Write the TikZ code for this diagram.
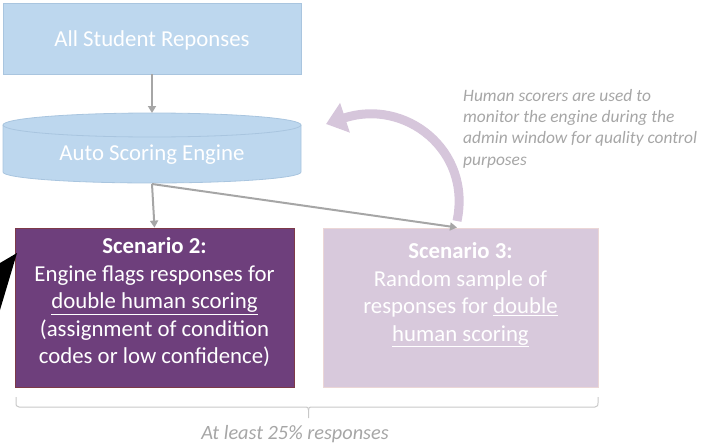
\documentclass[tikz,border=0pt]{standalone}
\usepackage{fontspec}
\setmainfont{Carlito}
\usetikzlibrary{arrows.meta}
\definecolor{lblue}{HTML}{BDD7EE}
\definecolor{lblueb}{HTML}{A9C5DF}
\definecolor{purp}{HTML}{6E3F7C}
\definecolor{purpb}{HTML}{7D3A48}
\definecolor{lilac}{HTML}{D8C9DC}
\definecolor{lilacb}{HTML}{EBD6D6}
\definecolor{arcc}{HTML}{D6C6DB}
\definecolor{conng}{HTML}{A6A6A6}
\definecolor{noteg}{HTML}{A6A6A6}
\definecolor{braceg}{HTML}{C8C8C8}
\tikzset{
  bluebox/.style={draw=lblueb, line width=0.8pt, fill=lblue, minimum width=298pt, minimum height=71pt, inner sep=0pt},
  conn/.style={draw=conng, line width=2pt, -{Triangle[length=7pt,width=8pt]}},
  whitetxt/.style={text=white, font=\fontsize{22.8}{27.5}\selectfont, align=center, inner sep=0pt},
  note/.style={text=noteg, font=\fontsize{17.4}{21.3}\selectfont\itshape, align=left, inner sep=0pt},
}
\begin{document}
\begin{tikzpicture}[x=1pt,y=-1pt]
\useasboundingbox (0,0) rectangle (705,447);
% top box
\node[bluebox] (top) at (152,38.5) {};
\node[whitetxt] (toptxt) at (152,40) {All Student Reponses};
% cylinder
\fill[lblue] (3,125) -- (3,172) arc[start angle=180,end angle=360,x radius=149pt,y radius=11pt] -- (301,125) arc[start angle=0,end angle=180,x radius=149pt,y radius=12pt] -- cycle;
\draw[lblueb, line width=0.8pt] (3,125) -- (3,172) arc[start angle=180,end angle=360,x radius=149pt,y radius=11pt] -- (301,125);
\draw[lblueb, line width=0.8pt] (152,125) ellipse[x radius=149pt, y radius=12pt];
\coordinate (engtop) at (152,113);
\coordinate (engbot) at (152,184);
\node[whitetxt] (eng) at (152,155) {Auto Scoring Engine};
% scenario boxes
\node[draw=purpb, line width=0.8pt, fill=purp, minimum width=279pt, minimum height=159pt, inner sep=0pt] (s2) at (154.5,307.5) {};
\node[whitetxt] (s2txt) at (154.5,302.5) {\textbf{Scenario 2:}\\Engine flags responses for\\\underline{double human scoring}\\(assignment of condition\\codes or low confidence)};
\node[draw=lilacb, line width=0.8pt, fill=lilac, minimum width=275pt, minimum height=159pt, inner sep=0pt] (s3) at (460.5,307.5) {};
\node[whitetxt] (s3txt) at (460.5,295) {\textbf{Scenario 3:}\\Random sample of\\responses for \underline{double}\\\underline{human scoring}};
% connectors
\draw[conn] (top.south) -- (engtop);
\draw[conn] (engbot) -- (s2.north);
\coordinate (s3in) at (457,227.5);
\draw[conn] (engbot) -- (s3in);
% curved arrow
\coordinate (cs) at (457,221);
\coordinate (ce) at (326,124);
\draw[arcc, line width=9pt, -{Triangle[length=20pt,width=30pt]}] (cs) .. controls (472,150) and (405,98) .. (ce);
% note
\node[note, anchor=north west] (nt) at (463,89) {Human scorers are used to\\monitor the engine during the\\admin window for quality control\\purposes};
% black wedge
\fill[black] (0,263) -- (17,253) -- (0,310) -- cycle;
% brace
\draw[braceg, line width=1pt] (16,397) -- (16,403) .. controls (16,406) .. (19,407) -- (305,407) .. controls (308,407) .. (308.5,410) -- (308.5,418);
\draw[braceg, line width=1pt] (308.5,410) .. controls (309,407) .. (312,407) -- (595,407) .. controls (598,406) .. (598,403) -- (598,397);
\node[text=noteg, font=\fontsize{20.3}{24}\selectfont\itshape, inner sep=0pt] (lbl) at (295,434) {At least 25\% responses};
\end{tikzpicture}
\end{document}
